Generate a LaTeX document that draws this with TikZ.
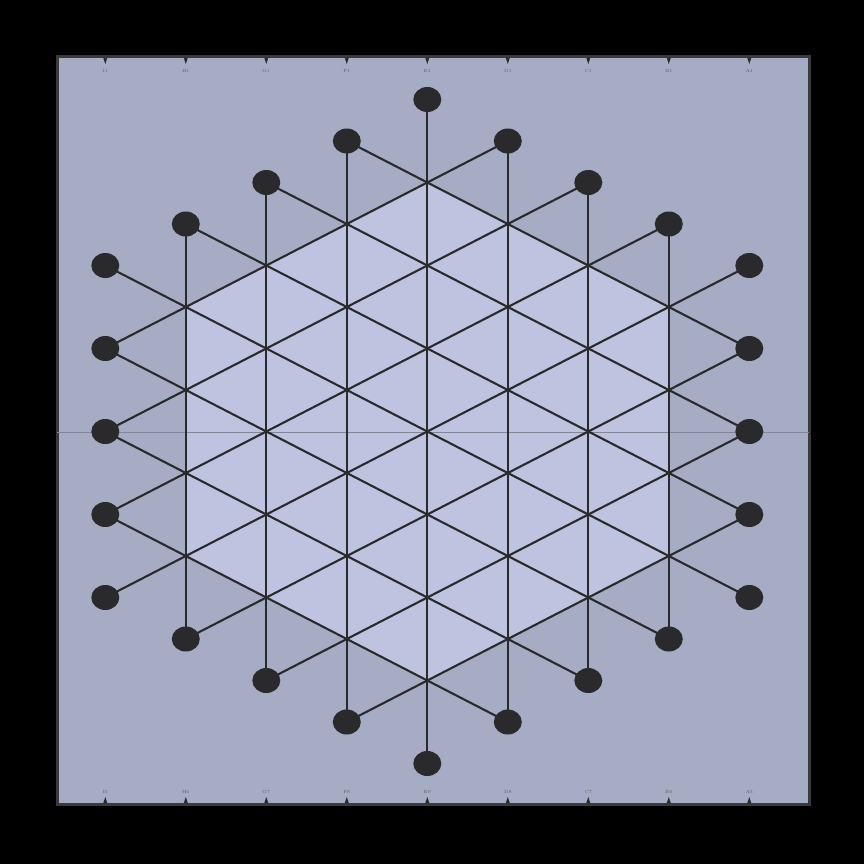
\documentclass[tikz,border=0pt]{standalone}
\usetikzlibrary{shapes.geometric}
\definecolor{board}{RGB}{166,172,195}
\definecolor{innerhex}{RGB}{190,196,223}
\definecolor{ink}{RGB}{42,42,44}
\definecolor{frame}{RGB}{58,58,60}
\definecolor{foldc}{RGB}{128,133,152}
\begin{document}
\begin{tikzpicture}[x=1pt,y=-1pt,
  gridline/.style={draw=ink, line width=2.1pt},
  dot/.style={ellipse, fill=ink, minimum width=28pt, minimum height=25pt, inner sep=0pt},
  lbl/.style={font=\fontsize{4.5}{5}\selectfont, text=ink!75, inner sep=0pt},
  tickmark/.style={fill=ink},
  foldline/.style={draw=foldc, line width=0.7pt}]
\fill[black] (0,0) rectangle (864,864);
\useasboundingbox (0,0) rectangle (864,864);
\path[fill=board, draw=frame, line width=3pt] (57,57) rectangle (809,804);
% lattice points
\foreach \col in {-4,...,4}{
  \pgfmathtruncatemacro\nn{8-abs(\col)}
  \pgfmathtruncatemacro\va{-\nn}
  \pgfmathtruncatemacro\vb{-\nn+2}
  \pgfmathtruncatemacro\ii{\col+4}
  \foreach \vv in {\va,\vb,...,\nn}{
    \pgfmathtruncatemacro\jj{\vv+8}
    \coordinate (p\ii-\jj) at ({427.3+80.5*\col},{431.5+41.5*\vv});
  }
}
% lighter inner hexagon
\fill[innerhex] (p4-2) -- (p7-5) -- (p7-11) -- (p4-14) -- (p1-11) -- (p1-5) -- cycle;
% fold
\coordinate (fl) at (57,432);
\coordinate (fr) at (809,432);
\draw[foldline] (fl) -- (fr);
% vertical lines
\foreach \xa/\ya/\yb in {1/3/13, 2/2/14, 3/1/15, 4/0/16, 5/1/15, 6/2/14, 7/3/13}
  \draw[gridline] (p\xa-\ya) -- (p\xa-\yb);
% diagonals
\foreach \xa/\ya/\xb/\yb in {3/1/8/6, 2/2/8/8, 1/3/8/10, 0/4/8/12, 0/6/7/13, 0/8/6/14, 0/10/5/15,
  0/6/5/1, 0/8/6/2, 0/10/7/3, 0/12/8/4, 1/13/8/6, 2/14/8/8, 3/15/8/10}
  \draw[gridline] (p\xa-\ya) -- (p\xb-\yb);
% dots
\foreach \xa/\ya in {0/4,0/6,0/8,0/10,0/12, 8/4,8/6,8/8,8/10,8/12,
  1/3,1/13, 2/2,2/14, 3/1,3/15, 4/0,4/16, 5/1,5/15, 6/2,6/14, 7/3,7/13}
  \node[dot] (d\xa-\ya) at (p\xa-\ya) {};
% ticks and labels
\foreach \col/\ltr/\num in {0/I/5,1/H/6,2/G/7,3/F/8,4/E/9,5/D/8,6/C/7,7/B/6,8/A/5}{
  \pgfmathsetmacro\xx{427.3+80.5*(\col-4)}
  \fill[tickmark] (\xx-2,58) -- (\xx+2,58) -- (\xx,64) -- cycle;
  \fill[tickmark] (\xx-2,803) -- (\xx+2,803) -- (\xx,797) -- cycle;
  \node[lbl] (top\col) at (\xx,71) {\ltr1};
  \node[lbl] (bot\col) at (\xx,792) {\ltr\num};
}
\end{tikzpicture}
\end{document}
